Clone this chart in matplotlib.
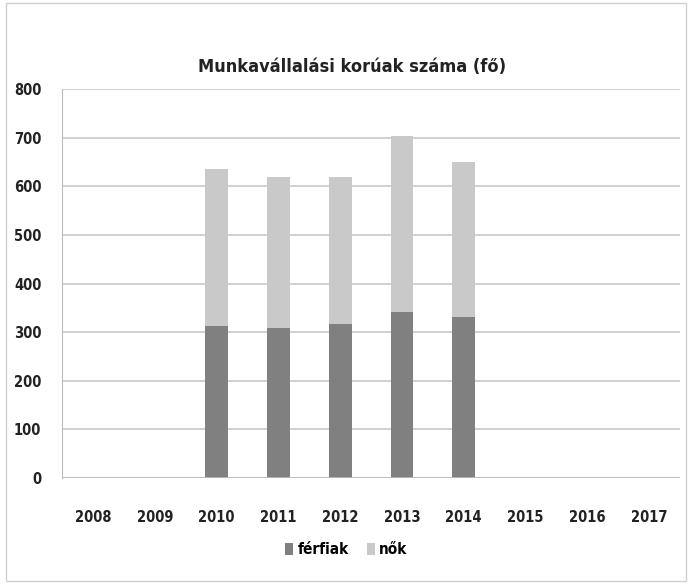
import numpy as np
import matplotlib.pyplot as plt
from matplotlib.patches import Rectangle

years = ["2008", "2009", "2010", "2011", "2012", "2013", "2014", "2015", "2016", "2017"]
ferfiak = [0, 0, 313, 308, 316, 341, 331, 0, 0, 0]
nok = [0, 0, 322, 312, 304, 363, 318, 0, 0, 0]

plt.rcParams['font.family'] = ['DejaVu Sans']
plt.rcParams['font.stretch'] = 'condensed'

fig = plt.figure(figsize=(6.91, 5.84), dpi=100)
ax = fig.add_axes([0.09, 0.1815, 0.894, 0.666])

x = np.arange(len(years))
ax.bar(x, ferfiak, width=0.37, color="#808080", label="férfiak", zorder=3)
ax.bar(x, nok, width=0.37, bottom=ferfiak, color="#c9c9c9", label="nők", zorder=3)

ax.set_xlim(-0.5, len(years) - 0.5)
ax.set_ylim(0, 800)
ax.set_yticks(np.arange(0, 801, 100))
ax.set_xticks(x)
ax.set_xticklabels(years)
ax.yaxis.grid(True, color="#c8c8c8", linewidth=1.2, zorder=0)
for s in ["top", "right", "bottom"]:
    ax.spines[s].set_visible(False)
ax.spines["left"].set_color("#bbbbbb")
ax.axhline(0, color="#bbbbbb", linewidth=1.2, zorder=4)
ax.tick_params(axis="both", length=0, labelsize=10.5, colors="#222222")
ax.tick_params(axis="x", pad=23)
ax.tick_params(axis="y", pad=15)
for lbl in ax.get_xticklabels() + ax.get_yticklabels():
    lbl.set_fontweight("bold")

fig.text(0.51, 0.885, "Munkavállalási korúak száma (fő)", ha="center", va="center",
         fontsize=13, fontweight="bold", color="#222222")

ax.legend(loc="upper center", bbox_to_anchor=(0.46, -0.13), ncol=2, frameon=False,
          handlelength=0.5, handleheight=0.8, handletextpad=0.3, columnspacing=1.2,
          prop={"size": 11, "weight": "bold"})

fig.patches.append(Rectangle((0.008, 0.005), 0.985, 0.99, transform=fig.transFigure,
                             fill=False, edgecolor="#d0d0d0", linewidth=1.0))

fig.savefig("out.png", dpi=100)
